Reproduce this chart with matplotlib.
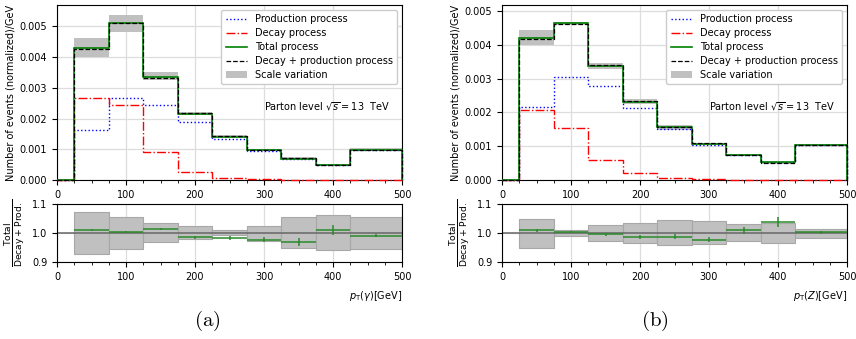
import numpy as np
import matplotlib
matplotlib.use("Agg")
import matplotlib.pyplot as plt
from matplotlib.patches import Patch
from matplotlib.lines import Line2D
from matplotlib.ticker import MultipleLocator

# bin edges in pT [GeV]
edges = [0, 25, 75, 125, 175, 225, 275, 325, 375, 425, 500]

# (a) photon pT
prod_a = [0, 0.00163, 0.00266, 0.00243, 0.00188, 0.00135, 0.00096, 0.00070, 0.00050, 0.00097]
decay_a = [0, 0.00266, 0.00243, 0.00090, 0.00026, 0.00008, 0.00002, 0.000005, 0.000002, 0.000001]
total_a = [0, 0.00431, 0.00511, 0.00336, 0.00215, 0.00141, 0.00097, 0.00070, 0.00050, 0.00097]
sum_a = [0, 0.00428, 0.00510, 0.00332, 0.00217, 0.00143, 0.00099, 0.00072, 0.00050, 0.00098]
band_lo_a = [0, 0.00401, 0.00483, 0.00327, 0.00212, 0.00141, 0.00097, 0.00068, 0.00047, 0.00093]
band_hi_a = [0, 0.00463, 0.00539, 0.00352, 0.00222, 0.00145, 0.00101, 0.00076, 0.00053, 0.00103]
ratio_a = [1.011, 1.003, 1.013, 0.986, 0.982, 0.977, 0.969, 1.010, 0.991]
ratio_err_a = [0.003, 0.003, 0.004, 0.005, 0.006, 0.009, 0.013, 0.016, 0.006]
box_lo_a = [0.928, 0.945, 0.968, 0.978, 0.992, 0.972, 0.949, 0.940, 0.946]
box_hi_a = [1.071, 1.054, 1.034, 1.023, 1.010, 1.024, 1.054, 1.062, 1.054]

# (b) Z pT
prod_b = [0, 0.00215, 0.00306, 0.00277, 0.00212, 0.00151, 0.00105, 0.00075, 0.00052, 0.00105]
decay_b = [0, 0.00207, 0.00154, 0.00060, 0.00020, 0.00006, 0.00002, 0.000005, 0.000002, 0.000001]
total_b = [0, 0.00421, 0.00464, 0.00338, 0.00231, 0.00156, 0.00106, 0.00075, 0.00052, 0.00105]
sum_b = [0, 0.00418, 0.00462, 0.00339, 0.00234, 0.00158, 0.00109, 0.00074, 0.00050, 0.00105]
band_lo_b = [0, 0.00399, 0.00459, 0.00328, 0.00224, 0.00149, 0.00103, 0.00072, 0.00048, 0.00103]
band_hi_b = [0, 0.00444, 0.00468, 0.00347, 0.00240, 0.00164, 0.00111, 0.00077, 0.00054, 0.00107]
ratio_b = [1.009, 1.005, 0.995, 0.987, 0.987, 0.977, 1.010, 1.038, 1.002]
ratio_err_b = [0.004, 0.003, 0.005, 0.007, 0.009, 0.008, 0.012, 0.017, 0.006]
box_lo_b = [0.949, 0.991, 0.972, 0.964, 0.957, 0.961, 0.972, 0.966, 0.983]
box_hi_b = [1.050, 1.012, 1.027, 1.034, 1.045, 1.041, 1.030, 1.035, 1.015]

FS = 7
W, H = 856, 339


def style_axis(ax):
    ax.set_xlim(0, 500)
    ax.xaxis.set_major_locator(MultipleLocator(100))
    ax.xaxis.set_minor_locator(MultipleLocator(25))
    ax.grid(True, which="major", color="#dddddd", lw=0.9)
    ax.set_axisbelow(True)
    ax.tick_params(labelsize=FS, length=3.5, width=0.8)
    ax.tick_params(which="minor", length=2, width=0.6)


def draw_main(ax, prod, decay, total, dsum, lo, hi, ymax):
    ax.stairs(hi, edges, baseline=lo, fill=True, color="#c0c0c0", lw=0, zorder=1)
    # lines drawn unclipped so the ~0 tails show over the bottom spine
    ax.stairs(prod, edges, baseline=0, color="b", ls=":", lw=1.0, zorder=2.6, clip_on=False)
    ax.stairs(decay, edges, baseline=0, color="r", ls="-.", lw=1.0, zorder=3, clip_on=False)
    ax.stairs(total, edges, baseline=0, color="g", ls="-", lw=1.2, zorder=4, clip_on=False)
    ax.stairs(dsum, edges, baseline=0, color="k", ls="--", lw=0.9, zorder=5, clip_on=False)
    style_axis(ax)
    ax.set_ylim(0, ymax)
    ax.yaxis.set_major_locator(MultipleLocator(0.001))
    ax.set_ylabel("Number of events (normalized)/GeV", fontsize=FS, labelpad=3)

    handles = [
        Line2D([], [], color="b", ls=":", lw=1.0),
        Line2D([], [], color="r", ls="-.", lw=1.0),
        Line2D([], [], color="g", ls="-", lw=1.2),
        Line2D([], [], color="k", ls="--", lw=0.9),
        Patch(facecolor="#c0c0c0", edgecolor="none"),
    ]
    labels = ["Production process", "Decay process", "Total process",
              "Decay + production process", "Scale variation"]
    ax.legend(handles, labels, loc="upper right", fontsize=FS,
              handlelength=2.2, labelspacing=0.4, borderpad=0.45, framealpha=1)
    ax.text(0.6, 0.42, r"Parton level $\sqrt{s}=13\ $ TeV", transform=ax.transAxes,
            fontsize=FS, va="center", ha="left")


def draw_ratio(ax, ratio, err, lo, hi, xlabel):
    e = np.array(edges[1:])
    left, right = e[:-1], e[1:]
    centers = (left + right) / 2
    ax.bar(left, np.array(hi) - np.array(lo), bottom=lo, width=right - left, align="edge",
           color="#c0c0c0", edgecolor="#a8a8a8", lw=0.8, zorder=1)
    ax.axhline(1.0, color="#666666", lw=1.1, zorder=2)
    ax.errorbar(centers, ratio, xerr=(right - left) / 2, yerr=err, fmt="none",
                ecolor="#2a8a2a", elinewidth=1.1, zorder=3)
    style_axis(ax)
    ax.set_ylim(0.9, 1.1)
    ax.set_yticks([0.9, 1.0, 1.1])
    ax.set_ylabel(r"$\frac{\rm Total}{\rm Decay + Prod.}$", fontsize=9.5)
    ax.yaxis.set_label_coords(-0.088, 0.5)
    ax.set_xlabel(xlabel, fontsize=FS, loc="right", labelpad=5)


fig = plt.figure(figsize=(W / 100, H / 100), dpi=100)

panels = [
    (57, prod_a, decay_a, total_a, sum_a, band_lo_a, band_hi_a, 0.0057,
     ratio_a, ratio_err_a, box_lo_a, box_hi_a, r"$p_{\rm T}(\gamma)$[GeV]", "a", 207),
    (502, prod_b, decay_b, total_b, sum_b, band_lo_b, band_hi_b, 0.00518,
     ratio_b, ratio_err_b, box_lo_b, box_hi_b, r"$p_{\rm T}(Z)$[GeV]", "b", 655),
]

for (x0, prod, decay, total, dsum, lo, hi, ymax, rat, rerr, blo, bhi, xl, tag, cx) in panels:
    ax_main = fig.add_axes([x0 / W, (H - 180) / H, 345 / W, 175 / H])
    draw_main(ax_main, prod, decay, total, dsum, lo, hi, ymax)
    ax_rat = fig.add_axes([x0 / W, (H - 262) / H, 345 / W, 58 / H])
    draw_ratio(ax_rat, rat, rerr, blo, bhi, xl)
    fig.text(cx / W, 1 - 321 / H, r"$(\mathrm{%s})$" % tag, fontsize=15,
             math_fontfamily="cm", ha="center", va="center")

fig.savefig("out.png", dpi=100)
